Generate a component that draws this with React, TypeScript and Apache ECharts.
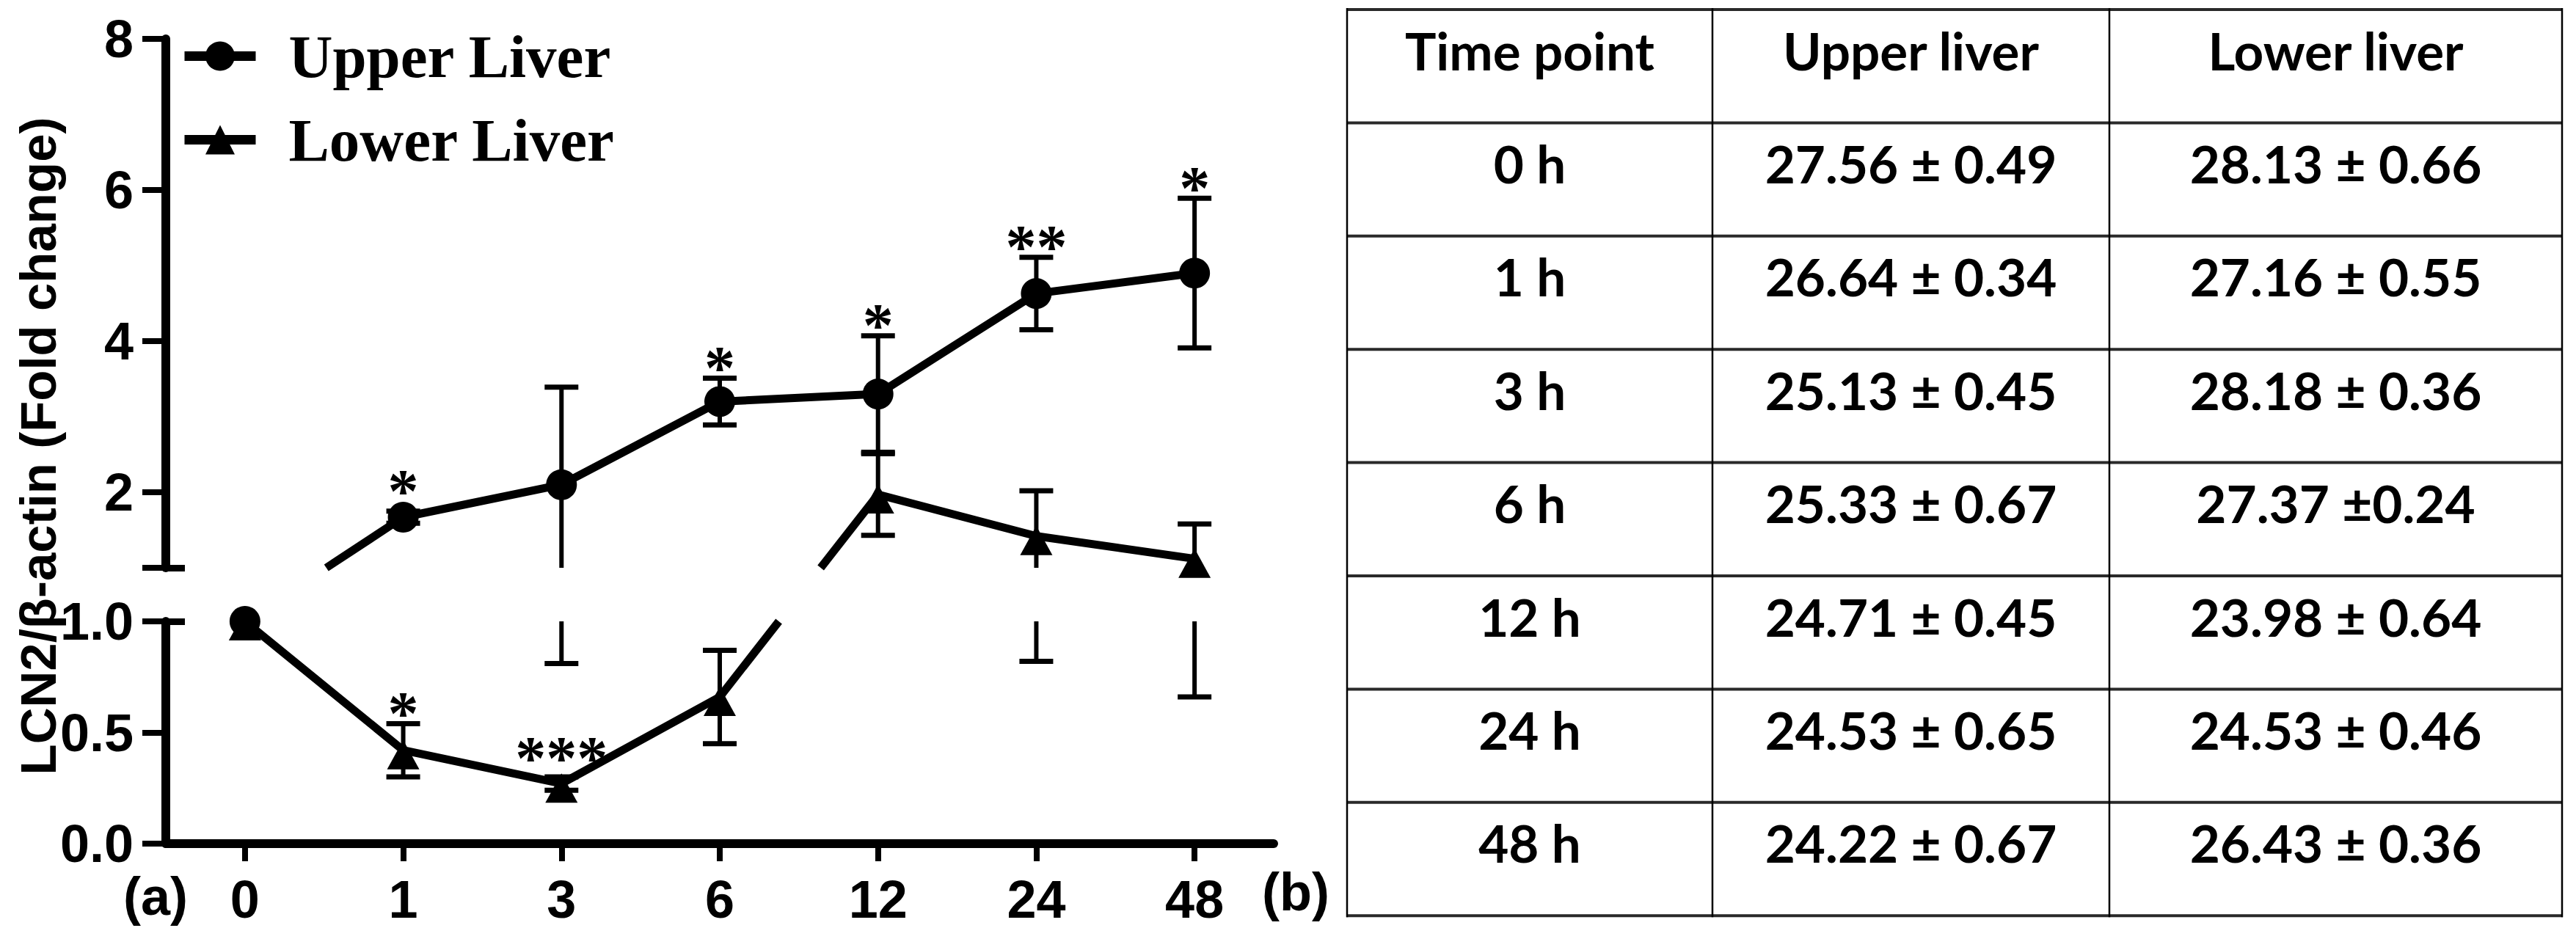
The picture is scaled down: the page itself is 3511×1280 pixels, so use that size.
import React, { useEffect, useRef } from 'react';
import * as echarts from 'echarts';

// ---------- data ----------
const timeLabels = ['0', '1', '3', '6', '12', '24', '48'];
const upperMean = [1.0, 1.67, 2.1, 3.2, 3.3, 4.63, 4.9];
const upperErr = [0, 0.08, 1.29, 0.31, 0.77, 0.48, 0.99];
const lowerMean = [1.0, 0.42, 0.27, 0.66, 1.97, 1.42, 1.12];
const lowerErr = [0, 0.12, 0.03, 0.21, 0.54, 0.6, 0.46];
const upperStars = ['', '*', '', '*', '*', '**', '*'];
const lowerStars = ['', '*', '***', '', '', '', ''];
const upperTicks = [2, 4, 6, 8];
const lowerTicks = [0, 0.5, 1.0];
const breakValue = 1;
const upperRange = [1, 8];
const lowerRange = [0, 1];

const tableHeader = ['Time point', 'Upper liver', 'Lower liver'];
const tableTimes = ['0 h', '1 h', '3 h', '6 h', '12 h', '24 h', '48 h'];
const tableUpper = ['27.56 ± 0.49', '26.64 ± 0.34', '25.13 ± 0.45', '25.33 ± 0.67', '24.71 ± 0.45', '24.53 ± 0.65', '24.22 ± 0.67'];
const tableLower = ['28.13 ± 0.66', '27.16 ± 0.55', '28.18 ± 0.36', '27.37 ±0.24', '23.98 ± 0.64', '24.53 ± 0.46', '26.43 ± 0.36'];

// ---------- layout ----------
const W = 3511;
const H = 1280;
const GRID_LEFT = 226;
const GRID_W = 1510;
const UP_TOP = 53;
const UP_H = 721;
const LO_TOP = 847;
const LO_H = 303;
const AXIS_W = 12;
const LINE_W = 11;
const SANS = 'Liberation Sans';
const SERIF = 'Liberation Serif';

const inUpper = (v: number) => v > breakValue;

const errorBarRender = (params: any, api: any) => {
  const cs = params.coordSys;
  const x = api.value(0);
  const m = api.value(1);
  const e = api.value(2);
  if (!(e > 0)) return null;
  const top = api.coord([x, m + e]);
  const bot = api.coord([x, m - e]);
  const yMin = cs.y;
  const yMax = cs.y + cs.height;
  const y1 = Math.max(top[1], yMin);
  const y2 = Math.min(bot[1], yMax);
  if (y1 >= y2) return null;
  const cx = top[0];
  const half = 23;
  const children: any[] = [{ type: 'line', shape: { x1: cx, y1, x2: cx, y2 }, style: { stroke: '#000', lineWidth: 6 } }];
  if (top[1] >= yMin - 0.5 && top[1] <= yMax) {
    children.push({ type: 'line', shape: { x1: cx - half, y1: top[1], x2: cx + half, y2: top[1] }, style: { stroke: '#000', lineWidth: 7 } });
  }
  if (bot[1] <= yMax + 0.5 && bot[1] >= yMin) {
    children.push({ type: 'line', shape: { x1: cx - half, y1: bot[1], x2: cx + half, y2: bot[1] }, style: { stroke: '#000', lineWidth: 7 } });
  }
  return { type: 'group', children };
};

const starRender = (stars: string[], gridIdx: number) => (params: any, api: any) => {
  const i = params.dataIndex;
  const s = stars[i];
  if (!s) return null;
  const m = api.value(1);
  if ((inUpper(m) ? 0 : 1) !== gridIdx) return null;
  const x = api.value(0);
  const e = api.value(2);
  const pm = api.coord([x, m]);
  const pt = api.coord([x, m + e]);
  const top = Math.min(pt[1], pm[1] - 21);
  return {
    type: 'text',
    x: pm[0],
    y: top - 14,
    style: {
      text: s,
      font: `bold 84px "${SERIF}"`,
      fill: '#000',
      textAlign: 'center',
      textVerticalAlign: 'middle',
      align: 'center',
      verticalAlign: 'middle',
    },
  };
};

const triples = (means: number[], errs: number[]) => means.map((m, i) => [i, m, errs[i]]);

function crossingSegments(chart: any, means: number[]) {
  const segs: number[][][] = [];
  const yUpBottom = chart.convertToPixel({ xAxisIndex: 0, yAxisIndex: 0 }, [0, breakValue])[1];
  const yLoTop = chart.convertToPixel({ xAxisIndex: 1, yAxisIndex: 1 }, [0, breakValue])[1];
  for (let i = 0; i < means.length - 1; i++) {
    const a = means[i];
    const b = means[i + 1];
    if (inUpper(a) === inUpper(b)) continue;
    const ga = inUpper(a) ? 0 : 1;
    const gb = inUpper(b) ? 0 : 1;
    const pa = chart.convertToPixel({ xAxisIndex: ga, yAxisIndex: ga }, [i, a]);
    const pb = chart.convertToPixel({ xAxisIndex: gb, yAxisIndex: gb }, [i + 1, b]);
    const lo = inUpper(a) ? pb : pa;
    const hi = inUpper(a) ? pa : pb;
    const at = (y: number) => lo[0] + ((hi[0] - lo[0]) * (lo[1] - y)) / (lo[1] - hi[1]);
    if (lo[1] > yLoTop + 0.5) segs.push([lo, [at(yLoTop), yLoTop]]);
    if (hi[1] < yUpBottom - 0.5) segs.push([[at(yUpBottom), yUpBottom], hi]);
  }
  return segs;
}

function tableGraphics() {
  const els: any[] = [];
  const colX = [1836, 2334, 2875, 3492];
  const top = 13;
  const rowH = 154.4;
  const nRows = tableTimes.length + 1;
  const bottom = top + nRows * rowH;
  for (let r = 0; r <= nRows; r++) {
    const y = top + r * rowH;
    els.push({ type: 'line', id: `th${r}`, shape: { x1: colX[0] - 1, y1: y, x2: colX[3] + 1, y2: y }, style: { stroke: '#2a2a2a', lineWidth: 4 } });
  }
  colX.forEach((x, k) => {
    els.push({ type: 'line', id: `tv${k}`, shape: { x1: x, y1: top - 2, x2: x, y2: bottom + 2 }, style: { stroke: '#000', lineWidth: 2.5 } });
  });
  const rows = [tableHeader, ...tableTimes.map((t, i) => [t, tableUpper[i], tableLower[i]])];
  rows.forEach((row, r) => {
    row.forEach((txt, c) => {
      els.push({
        type: 'text',
        id: `tt${r}_${c}`,
        x: (colX[c] + colX[c + 1]) / 2,
        y: top + r * rowH + 55,
        style: {
          text: txt,
          font: 'bold 71px Lato',
          fill: '#000',
          textAlign: 'center',
          textVerticalAlign: 'middle',
          align: 'center',
          verticalAlign: 'middle',
        },
      });
    });
  });
  return els;
}

function buildOption(segs: number[][][]) {
  const textEl = (id: string, x: number, y: number, text: string, font: string, rotation = 0) => ({
    type: 'text',
    id,
    x,
    y,
    rotation,
    style: { text, font, fill: '#000', textAlign: 'center', textVerticalAlign: 'middle', align: 'center', verticalAlign: 'middle' },
  });

  const graphics: any[] = [
    textEl('ytitle', 52, 608, 'LCN2/β-actin (Fold change)', `bold 69px "${SANS}"`, Math.PI / 2),
    textEl('labA', 212, 1222, '(a)', `bold 72px "${SANS}"`),
    textEl('labB', 1766, 1216, '(b)', `bold 72px "${SANS}"`),
    ...tableGraphics(),
    ...segs.map((s, k) => ({
      type: 'line',
      id: `cross${k}`,
      z: 1,
      shape: { x1: s[0][0], y1: s[0][1], x2: s[1][0], y2: s[1][1] },
      style: { stroke: '#000', lineWidth: LINE_W },
    })),
  ];

  const axisLabelStyle = { fontFamily: SANS, fontWeight: 'bold', fontSize: 72, color: '#000' };

  const mainY = (gridIndex: number, range: number[], ticks: number[], labelFmt: (v: number) => string, tickVals: number[]) => ({
    type: 'value',
    gridIndex,
    min: range[0],
    max: range[1],
    position: 'left',
    axisLine: { show: true, lineStyle: { color: '#000', width: AXIS_W } },
    axisTick: { show: true, length: 32, customValues: tickVals, lineStyle: { color: '#000', width: 8 } },
    axisLabel: { show: true, margin: 44, customValues: ticks, formatter: labelFmt, ...axisLabelStyle },
    splitLine: { show: false },
  });

  const capY = (gridIndex: number, range: number[]) => ({
    type: 'value',
    gridIndex,
    min: range[0],
    max: range[1],
    position: 'left',
    axisLine: { show: false },
    axisTick: { show: true, inside: true, length: 26, customValues: [breakValue], lineStyle: { color: '#000', width: 9 } },
    axisLabel: { show: false },
    splitLine: { show: false },
  });

  const lineSeries = (name: string, gridIdx: number, data: (number | null)[], symbol: string, size: any, offset: number[]) => ({
    type: 'line',
    name,
    xAxisIndex: gridIdx,
    yAxisIndex: gridIdx,
    data,
    symbol,
    symbolSize: size,
    symbolOffset: offset,
    showSymbol: true,
    showAllSymbol: true,
    connectNulls: false,
    clip: false,
    z: 3,
    lineStyle: { color: '#000', width: LINE_W },
    itemStyle: { color: '#000', borderWidth: 0 },
    emphasis: { disabled: true },
  });

  const upGrid = (means: number[]) => means.map((v) => (inUpper(v) ? v : null));
  const loGrid = (means: number[]) => means.map((v) => (inUpper(v) ? null : v));

  const errSeries = (gridIdx: number, means: number[], errs: number[]) => ({
    type: 'custom',
    xAxisIndex: gridIdx,
    yAxisIndex: gridIdx,
    data: triples(means, errs),
    encode: { x: 0, y: 1 },
    renderItem: errorBarRender,
    clip: false,
    z: 2,
    silent: true,
  });

  const starSeries = (gridIdx: number, means: number[], errs: number[], stars: string[]) => ({
    type: 'custom',
    xAxisIndex: gridIdx,
    yAxisIndex: gridIdx,
    data: triples(means, errs),
    encode: { x: 0, y: 1 },
    renderItem: starRender(stars, gridIdx),
    clip: false,
    z: 4,
    silent: true,
  });

  return {
    animation: false,
    backgroundColor: '#fff',
    textStyle: { fontFamily: SANS },
    grid: [
      { left: GRID_LEFT, top: UP_TOP, width: GRID_W, height: UP_H, outerBoundsMode: 'none', containLabel: false },
      { left: GRID_LEFT, top: LO_TOP, width: GRID_W, height: LO_H, outerBoundsMode: 'none', containLabel: false },
    ],
    legend: {
      data: ['Upper Liver', 'Lower Liver'],
      orient: 'vertical',
      left: 240,
      top: 30,
      itemWidth: 97,
      itemHeight: 50,
      itemGap: 31,
      selectedMode: false,
      lineStyle: { width: 13 },
      textStyle: { fontFamily: SERIF, fontWeight: 'bold', fontSize: 83, color: '#000', lineHeight: 82, padding: [0, 0, 0, 40] },
    },
    xAxis: [
      { type: 'category', gridIndex: 0, data: timeLabels, show: false, boundaryGap: true },
      {
        type: 'category',
        gridIndex: 1,
        data: timeLabels,
        boundaryGap: true,
        axisLine: { show: true, onZero: false, lineStyle: { color: '#000', width: AXIS_W } },
        axisTick: { show: true, alignWithLabel: true, length: 24, lineStyle: { color: '#000', width: 8 } },
        axisLabel: { show: true, interval: 0, margin: 40, ...axisLabelStyle },
        splitLine: { show: false },
      },
    ],
    yAxis: [
      mainY(0, upperRange, upperTicks, (v: number) => String(Math.round(v)), [breakValue, ...upperTicks]),
      mainY(1, lowerRange, lowerTicks, (v: number) => v.toFixed(1), lowerTicks),
      capY(0, upperRange),
      capY(1, lowerRange),
    ],
    graphic: graphics,
    series: [
      errSeries(0, upperMean, upperErr),
      errSeries(1, upperMean, upperErr),
      errSeries(0, lowerMean, lowerErr),
      errSeries(1, lowerMean, lowerErr),
      lineSeries('Upper Liver', 0, upGrid(upperMean), 'circle', 42, [0, 0]),
      lineSeries('Upper Liver', 1, loGrid(upperMean), 'circle', 42, [0, 0]),
      lineSeries('Lower Liver', 0, upGrid(lowerMean), 'triangle', [44, 40], [0, 6]),
      lineSeries('Lower Liver', 1, loGrid(lowerMean), 'triangle', [44, 40], [0, 6]),
      starSeries(0, upperMean, upperErr, upperStars),
      starSeries(1, upperMean, upperErr, upperStars),
      starSeries(0, lowerMean, lowerErr, lowerStars),
      starSeries(1, lowerMean, lowerErr, lowerStars),
    ],
  };
}

export default function App() {
  const ref = useRef<HTMLDivElement>(null);
  useEffect(() => {
    document.body.style.margin = '0';
    const chart = echarts.init(ref.current as HTMLDivElement, null, { renderer: 'svg', width: W, height: H });
    chart.setOption(buildOption([]) as any, true);
    const segs = [...crossingSegments(chart, upperMean), ...crossingSegments(chart, lowerMean)];
    chart.setOption(buildOption(segs) as any, true);
    return () => chart.dispose();
  }, []);
  return <div ref={ref} style={{ position: 'absolute', left: 0, top: 0, width: W, height: H, background: '#fff' }} />;
}
